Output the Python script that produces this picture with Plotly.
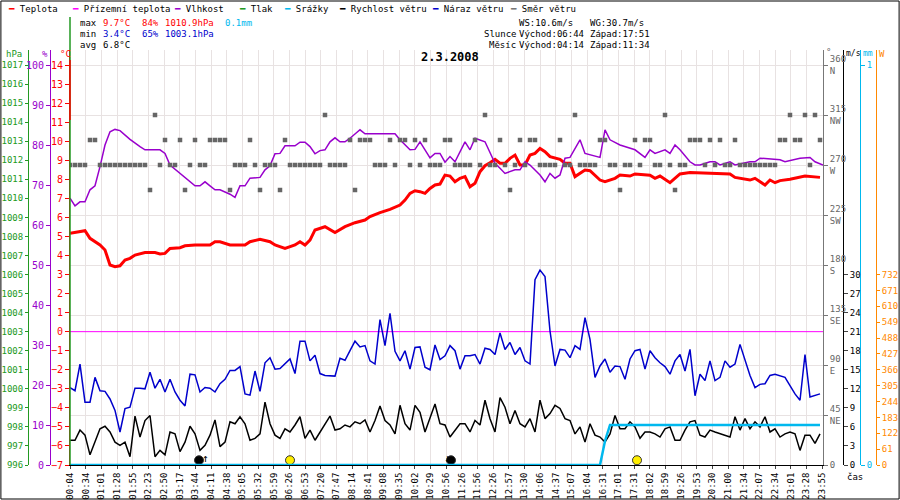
import plotly.graph_objects as go

FONT = "DejaVu Sans Mono"

time_labels = ["00:04","00:34","01:01","01:28","01:55","02:23","02:50","03:17","03:44","04:11","04:38",
"05:05","05:32","05:59","06:26","06:53","07:20","07:47","08:14","08:41","09:08","09:35","10:02","10:29",
"10:56","11:26","11:56","12:26","12:57","13:30","14:06","14:37","15:07","16:04","16:31","17:01","17:31",
"18:02","18:59","19:26","19:53","20:30","21:00","21:34","22:07","22:34","23:01","23:28","23:55"]
LABEL_STEP = 752/48/5  # samples per label

wind = [3.9,3.9,5.5,4.7,1.6,3.6,5.7,6.1,5.2,3.6,3.1,3.6,1.3,7.7,4.4,7.0,7.8,1.3,2.3,1.6,5.2,4.9,2.1,3.6,6.1,
4.9,2.3,3.1,4.7,7.1,2.9,3.6,6.8,6.5,7.6,6.5,3.9,4.2,4.9,9.9,6.5,4.7,4.2,5.7,5.2,6.3,7.6,4.2,5.5,3.9,5.2,6.5,
7.7,5.5,5.7,6.3,6.0,6.8,6.5,7.1,5.2,7.0,9.3,7.0,6.3,4.9,9.4,6.5,5.5,9.4,8.3,5.2,7.3,9.6,6.5,6.3,4.4,
5.5,6.5,6.5,5.2,7.0,6.3,10.2,7.3,5.2,10.6,9.1,6.5,8.6,6.5,6.0,7.3,5.2,10.2,7.3,8.1,9.4,8.9,7.3,7.0,4.9,6.0,
3.6,6.5,4.7,4.4,3.6,4.9,7.8,5.7,5.7,6.8,6.0,4.2,5.2,5.2,4.9,4.4,5.7,6.0,3.9,3.9,5.5,6.8,7.0,4.7,4.4,5.5,5.2,
4.9,4.7,4.4,7.6,5.5,7.3,5.7,6.8,6.0,7.6,5.2,5.7,4.4,4.9,5.2,4.9,2.3,4.7,4.7,3.4,4.9]

gust = [12.2,11.7,15.9,9.9,9.9,13.8,11.7,11.6,10.4,8.6,5.2,8.9,9.1,12.1,12.1,12.0,14.6,12.1,13.5,11.5,13.5,11.5,
10.2,9.3,14.3,14.2,11.5,12.2,12.1,11.5,12.8,13.5,14.9,14.9,15.5,11.2,11.0,14.8,11.6,16.1,16.9,15.1,15.2,15.9,
16.7,14.4,19.5,19.5,16.4,17.3,14.4,14.1,14.1,14.0,16.8,16.5,18.0,19.5,18.6,18.8,16.4,15.9,22.9,18.8,23.9,17.9,
16.4,18.0,15.1,18.5,18.6,15.4,15.0,18.9,16.6,17.2,18.8,
18.0,15.1,17.2,17.2,17.4,15.9,18.4,18.2,17.4,20.8,18.2,19.3,17.4,18.5,16.4,15.9,29.2,30.7,29.7,21.1,15.6,18.2,
18.1,16.9,18.8,18.2,23.2,19.8,13.8,15.6,16.7,14.6,15.6,15.5,13.5,16.7,18.0,18.2,15.1,18.0,16.9,16.1,15.5,14.3,
16.4,17.4,14.8,18.2,10.9,14.3,13.3,16.4,13.3,13.8,16.4,15.4,15.9,19.0,16.4,14.1,12.2,12.7,12.8,14.1,14.3,14.1,
13.8,12.5,11.2,10.2,17.4,10.7,10.9,11.2]

direction = ([270]*4 + [292.5]*2 + [270]*10 + [247.5,315,270,292.5,270,270,292.5,247.5,270,292.5,270,270]
 + [292.5]*4 + [247.5,270,270,270,292.5,270,247.5,270,270,270,247.5,292.5] + [270]*7 + [315,270,270,270,270,
 292.5,247.5,292.5,292.5,292.5,270,270,270,292.5,270,292.5,292.5,270,292.5,270,292.5,270,270,270,292.5,292.5,
 270,270,270,270,292.5,270,315,270,270,292.5,270,247.5,270,292.5,270,292.5,292.5,270,270,270,270,292.5,270,270,
 315,270,270,270,270,292.5,292.5,270,270,247.5,270,270,292.5,270,292.5,292.5,270,270,315,270,247.5,270,270,
 292.5,292.5,292.5,270,292.5,270,292.5,270,270,292.5,270,270,270,270,270,270,270,270,292.5,292.5,315,292.5,
 292.5,315,270,315,292.5])

temp_t = [0,2,3,4,6,7,8,9,10,11,12,13,14,15,17,18,19,20,22,23,25,28,29,30,32,35,36,38,40,41,43,45,46,47,48,49,
51,53,55,57,59,60,62,64,66,67,68,69,70,71,72,73,74,75,76,
77,78,79,80,81,82,83,84,85,86,87,88,89,90,91,92,93,94,95,96,98,99,100,101,103,104,106,107,109,110,112,113,
116,117,118,120,122,124,132,133,136,137,139,140,141,142,144,147,150]
temp = [5.16,5.25,5.30,4.90,4.55,4.29,3.50,3.41,3.46,3.76,3.85,4.02,4.08,4.15,4.15,4.08,4.11,4.37,4.41,4.51,4.55,
4.55,4.72,4.72,4.55,4.55,4.72,4.85,4.72,4.55,4.37,4.55,4.72,4.55,4.81,5.34,5.51,5.20,5.51,5.72,5.86,6.04,6.25,
6.42,6.65,6.91,7.26,7.40,7.35,7.26,7.52,7.70,7.75,8.22,8.17,
7.87,8.05,8.14,7.61,7.79,8.40,8.71,8.87,9.05,8.84,8.84,9.10,9.27,8.75,8.75,9.27,9.36,9.62,9.45,9.19,9.05,
8.84,8.84,8.14,8.49,8.45,7.96,7.87,8.05,8.22,8.17,8.28,8.21,8.05,8.17,7.82,8.28,8.35,8.28,8.10,7.96,8.05,7.70,
7.96,7.82,7.93,8.00,8.17,8.10]

hum_t = [0,1,2,3,4,5,6,7,8,9,10,12,14,15,18,19,20,22,24,25,26,27,28,29,30,32,33,34,35,36,38,39,40,41,42,43,45,46,
47,48,49,50,51,52,53,54,55,56,58,59,65,66,68,69,70,72,73,74,75,76,
77,79,80,81,83,85,86,87,89,90,91,92,94,95,96,97,98,99,100,102,103,106,107,108,110,112,113,115,116,117,
119,120,121,122,124,125,126,128,129,130,132,133,136,137,138,142,143,146,148,149,150.6]
hum = [66.7,64.8,65.8,65.8,68.8,69.8,74.6,80.0,83.3,83.9,83.6,81.4,79.6,78.8,78.8,77.9,75.0,72.9,71.0,69.8,69.8,
70.8,69.8,68.8,68.8,67.7,66.9,69.8,69.8,71.7,71.9,73.8,74.8,77.8,77.9,79.8,79.8,80.7,80.7,79.6,77.8,78.6,78.8,
80.8,81.8,80.8,80.8,81.7,83.8,82.8,82.8,81.3,78.8,78.9,80.8,76.8,77.9,77.9,75.7,77.1,
75.8,80.8,78.8,81.7,80.8,75.4,74.2,72.9,73.8,73.8,75.8,75.0,72.5,70.8,72.9,71.7,72.5,76.7,76.9,81.3,77.9,76.9,
83.8,81.3,80.0,79.2,78.8,76.9,78.8,77.9,78.8,77.9,80.0,78.8,75.8,75.0,75.0,75.8,75.8,75.0,75.8,75.0,75.8,75.8,
76.7,76.3,75.8,76.7,76.9,75.8,75.0,75.8]
n = min(len(hum_t), len(hum))
hum_t, hum = hum_t[:n], hum[:n]

rain_t = [0, 106, 107, 108, 150]
rain = [0, 0, 0.06, 0.1, 0.1]

events_t = [25.8, 44.0, 76.2, 113.4]
events_c = ["black", "#ffee00", "black", "#ffee00"]

TOP = 14 + 15/19.05
TR = [-7, TOP]
span = TOP + 7

fig = go.Figure()
fig.add_trace(go.Scatter(x=list(range(len(direction))), y=direction, yaxis="y5", mode="markers",
    marker=dict(symbol="square", size=4.5, color="#666666"), hoverinfo="skip"))
fig.add_trace(go.Scatter(x=[0, 150.6], y=[0, 0], mode="lines", line=dict(color="#ff00ff", width=1)))
fig.add_trace(go.Scatter(x=list(range(len(gust))), y=gust, yaxis="y6", mode="lines", line=dict(color="#0000cc", width=1.5)))
fig.add_trace(go.Scatter(x=list(range(len(wind))), y=wind, yaxis="y6", mode="lines", line=dict(color="black", width=1.5)))
fig.add_trace(go.Scatter(x=rain_t, y=rain, yaxis="y7", mode="lines", line=dict(color="#00b8ee", width=2.5)))
fig.add_trace(go.Scatter(x=hum_t, y=hum, yaxis="y3", mode="lines", line=dict(color="#9900cc", width=1.5)))
fig.add_trace(go.Scatter(x=temp_t, y=temp, mode="lines", line=dict(color="#ff0000", width=3)))
fig.add_trace(go.Scatter(x=events_t, y=[-6.75]*4, mode="markers",
    marker=dict(size=9, color=events_c, line=dict(color="#333", width=1))))
fig.add_trace(go.Scatter(x=[None], y=[None], yaxis="y8"))
fig.add_trace(go.Scatter(x=[None], y=[None], yaxis="y2"))

def yp(px):
    return 1 - px/500

D0, D1 = 35/500, 450/500
XD = [70/900, 823/900]
fig.update_layout(
    width=900, height=500, margin=dict(l=0, r=0, t=0, b=0, autoexpand=False),
    paper_bgcolor="white", plot_bgcolor="white", showlegend=False,
    xaxis=dict(domain=XD, range=[0, 150.6], tickvals=[k*LABEL_STEP for k in range(49)], ticktext=time_labels,
               tickangle=-90, tickfont=dict(family=FONT, size=9, color="black"), showgrid=True,
               gridcolor="#e8e2e2", gridwidth=1, zeroline=False, ticks="outside", ticklen=3, showline=True,
               linecolor="black"),
    yaxis=dict(domain=[D0, D1], range=TR, tickvals=list(range(-7, 15)), tickfont=dict(family=FONT, size=10, color="red"),
               showgrid=False, zeroline=False, showline=True, linecolor="red", ticks="outside", ticklen=4,
               tickcolor="red"),
    yaxis2=dict(overlaying="y", anchor="free", position=28/900, side="left", range=[996, 996+span],
                tickvals=list(range(996, 1018)), tickfont=dict(family=FONT, size=9, color="#229922"),
                showgrid=False, zeroline=False, showline=True, linecolor="#229922", ticks="outside", ticklen=3,
                tickcolor="#229922"),
    yaxis3=dict(overlaying="y", anchor="free", position=50/900, side="left", range=[0, span/0.21],
                tickvals=list(range(0, 101, 10)), tickfont=dict(family=FONT, size=10, color="#9900cc"),
                showgrid=False, zeroline=False, showline=True, linecolor="#9900cc", ticks="outside", ticklen=4,
                tickcolor="#9900cc"),
    yaxis5=dict(overlaying="y", anchor="x", side="right", range=[0, span*360/21],
                tickvals=[0, 45, 90, 135, 180, 225, 270, 315, 360],
                ticktext=["0", "45<br>NE", "90<br>E", "135<br>SE", "180<br>S", "225<br>SW", "270<br>W", "315<br>NW", "360<br>N"],
                tickfont=dict(family=FONT, size=9, color="#666"), showgrid=True, gridcolor="#e8e2e2",
                zeroline=False, showline=True, linecolor="#777", ticks="outside", ticklen=4, tickcolor="#777"),
    yaxis6=dict(overlaying="y", anchor="free", position=843/900, side="right", range=[0, span*3],
                tickvals=list(range(0, 31, 3)), tickfont=dict(family=FONT, size=9, color="black"),
                showgrid=False, zeroline=False, showline=True, linecolor="black", ticks="outside", ticklen=4),
    yaxis7=dict(overlaying="y", anchor="free", position=860/900, side="right", range=[0, span/21],
                tickvals=[0, 1], tickfont=dict(family=FONT, size=9, color="#00b8ee"),
                showgrid=False, zeroline=False, showline=True, linecolor="#00b8ee", ticks="outside", ticklen=4,
                tickcolor="#00b8ee"),
    yaxis8=dict(overlaying="y", anchor="free", position=876/900, side="right", range=[0, span*3*24.4],
                tickvals=list(range(0, 733, 61)), tickfont=dict(family=FONT, size=9, color="#ff8800"),
                showgrid=False, zeroline=False, showline=True, linecolor="#ff8800", ticks="outside", ticklen=3,
                tickcolor="#ff8800"),
)

ann = []
def A(x, y, t, color="black", size=9, anchor="left", bold=False):
    ann.append(dict(x=x/900, y=yp(y), xref="paper", yref="paper", text=("<b>%s</b>" % t) if bold else t,
                    showarrow=False, xanchor=anchor, yanchor="middle",
                    font=dict(family=FONT, size=size, color=color)))

legend = [(6, "#ff0000", "Teplota"), (70, "#ff00ff", "Přízemní teplota"), (172, "#9900cc", "Vlhkost"),
          (237, "#229922", "Tlak"), (282, "#00b8ee", "Srážky"), (337, "black", "Rychlost větru"),
          (430, "#0000cc", "Náraz větru"), (508, "#777", "Směr větru")]
for x, c, t in legend:
    A(x, 9, '<span style="color:%s">━</span> %s' % (c, t))

A(78, 23, "max"); A(101, 23, "9.7°C", "#ff0000"); A(140, 23, "84%", "#ff0000"); A(163, 23, "1010.9hPa", "#ff0000")
A(223, 23, "0.1mm", "#00b8ee")
A(78, 34, "min"); A(101, 34, "3.4°C", "#0000cc"); A(140, 34, "65%", "#0000cc"); A(163, 34, "1003.1hPa", "#0000cc")
A(78, 45, "avg"); A(101, 45, "6.8°C")
A(517, 23, "WS:10.6m/s"); A(588, 23, "WG:30.7m/s")
A(482, 34, "Slunce"); A(517, 34, "Východ:06:44"); A(588, 34, "Západ:17:51")
A(487, 45, "Měsíc"); A(517, 45, "Východ:04:14"); A(588, 45, "Západ:11:34")
A(450, 57, "2.3.2008", size=12, anchor="center", bold=True)
A(4, 54, "hPa", "#229922"); A(40, 54, "%", "#9900cc"); A(58, 54, "°C", "#ff0000")
A(824, 52, "°", "#666"); A(844, 54, "m/s", "black", size=8); A(861, 54, "mm", "#00b8ee", size=8)
A(877, 54, "W", "#ff8800")
A(845, 477, "čas")
A(205, 458, "↑", size=11, anchor="center"); A(447, 458, "↓", size=11, anchor="center")
fig.update_layout(annotations=ann)

fig.update_layout(shapes=[
    dict(type="rect", xref="paper", yref="paper", x0=0.001, x1=0.999, y0=0.002, y1=0.998, line=dict(color="black", width=1)),
    dict(type="line", xref="paper", yref="paper", x0=70/900, x1=70/900, y0=yp(465), y1=yp(17), line=dict(color="#229922", width=1.5)),
    dict(type="line", xref="paper", yref="paper", x0=70/900, x1=70/900, y0=yp(120), y1=yp(60), line=dict(color="#ff0000", width=1.5)),
])

fig.write_html("out.html", config={"displayModeBar": False},
               post_script="document.body.style.margin='0';document.body.style.overflow='hidden';")
